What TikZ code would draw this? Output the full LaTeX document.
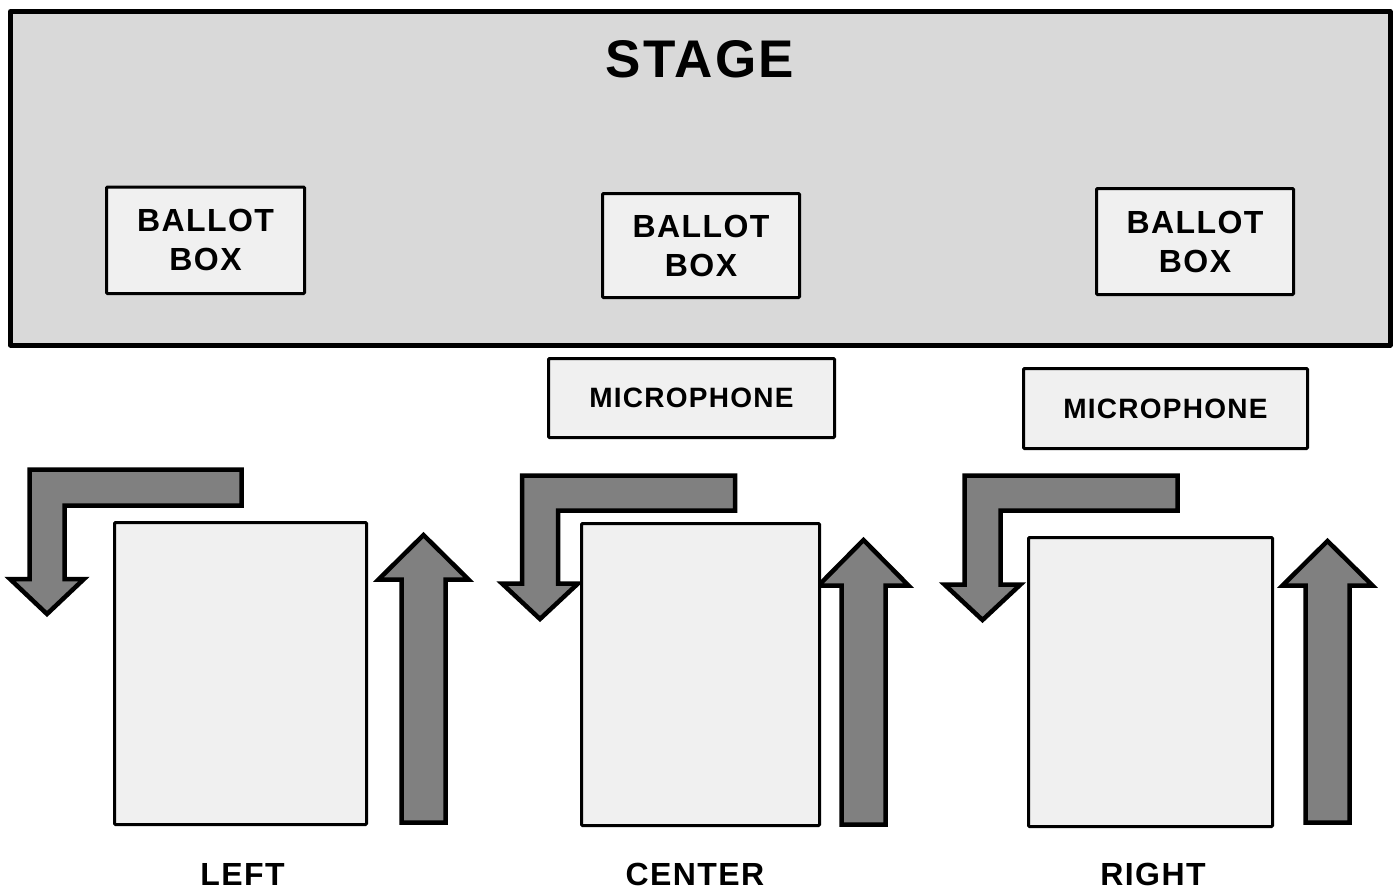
\documentclass[tikz,border=0pt]{standalone}
\usepackage{fontspec}
\setmainfont{Liberation Sans}[LetterSpace=4.5]
\definecolor{stagefill}{HTML}{D9D9D9}
\definecolor{boxfill}{HTML}{F0F0F0}
\definecolor{arrowfill}{HTML}{808080}
\tikzset{
  stagebox/.style={draw=black, fill=stagefill, line width=5pt, rectangle, inner sep=0pt, line join=round},
  lightbox/.style={draw=black, fill=boxfill, line width=3pt, rectangle, inner sep=0pt, rounded corners=1pt, align=center, font=\fontsize{32}{39}\selectfont\bfseries},
  micbox/.style={lightbox, font=\fontsize{28}{32}\selectfont\bfseries},
  blockarrow/.style={draw=black, fill=arrowfill, line width=4.5pt, line join=miter},
  labeltext/.style={inner sep=0pt, font=\fontsize{32}{38}\selectfont\bfseries},
}
\begin{document}
\begin{tikzpicture}[x=1pt,y=-1pt]
\useasboundingbox (0,0) rectangle (1395,891);
% stage
\node[stagebox, minimum width=1379.5pt, minimum height=333.5pt] (stage) at (700.25,178.25) {};
\node[labeltext, font=\fontsize{53}{60}\selectfont\bfseries] (stagetitle) at (700,59) {STAGE};
% ballot boxes
\node[lightbox, minimum width=198pt, minimum height=106.5pt] (ballotL) at (205.5,240.25) {BALLOT\\BOX};
\node[lightbox, minimum width=197pt, minimum height=104pt] (ballotC) at (701,245.5) {BALLOT\\BOX};
\node[lightbox, minimum width=197pt, minimum height=106pt] (ballotR) at (1195,241.5) {BALLOT\\BOX};
% microphones
\node[micbox, minimum width=286pt, minimum height=79pt] (micC) at (691.5,398) {MICROPHONE};
\node[micbox, minimum width=284pt, minimum height=80pt] (micR) at (1165.5,408.5) {MICROPHONE};
% L-shaped arrows
\draw[blockarrow] (241.5,469.5) -- (29.5,469.5) -- (29.5,579) -- (10,579) -- (47,614) -- (84,579) -- (64.5,579) -- (64.5,505.5) -- (241.5,505.5) -- cycle;
\draw[blockarrow] (735,475.5) -- (522,475.5) -- (522,583.5) -- (502,583.5) -- (540,619) -- (578,583.5) -- (558,583.5) -- (558,510.5) -- (735,510.5) -- cycle;
\draw[blockarrow] (1177.5,475.5) -- (964.5,475.5) -- (964.5,584.5) -- (944.5,584.5) -- (982.5,620) -- (1020.5,584.5) -- (1000.5,584.5) -- (1000.5,510.5) -- (1177.5,510.5) -- cycle;
% up arrows
\draw[blockarrow] (401.5,822.5) -- (401.5,579.5) -- (378.5,579.5) -- (423.5,535) -- (468.5,579.5) -- (445.5,579.5) -- (445.5,822.5) -- cycle;
\draw[blockarrow] (841.5,824.5) -- (841.5,585.5) -- (818.5,585.5) -- (863.5,540) -- (908.5,585.5) -- (885.5,585.5) -- (885.5,824.5) -- cycle;
\draw[blockarrow] (1305.5,822.5) -- (1305.5,585.5) -- (1282.5,585.5) -- (1327.5,541) -- (1372.5,585.5) -- (1349.5,585.5) -- (1349.5,822.5) -- cycle;
% booths
\node[lightbox, minimum width=252pt, minimum height=302pt] (boothL) at (240.5,673.5) {};
\node[lightbox, minimum width=238pt, minimum height=302pt] (boothC) at (700.5,674.5) {};
\node[lightbox, minimum width=244pt, minimum height=289pt] (boothR) at (1150.5,682) {};
% labels
\node[labeltext] (lblL) at (242.5,874) {LEFT};
\node[labeltext] (lblC) at (695,874) {CENTER};
\node[labeltext] (lblR) at (1153,874) {RIGHT};
\end{tikzpicture}
\end{document}
